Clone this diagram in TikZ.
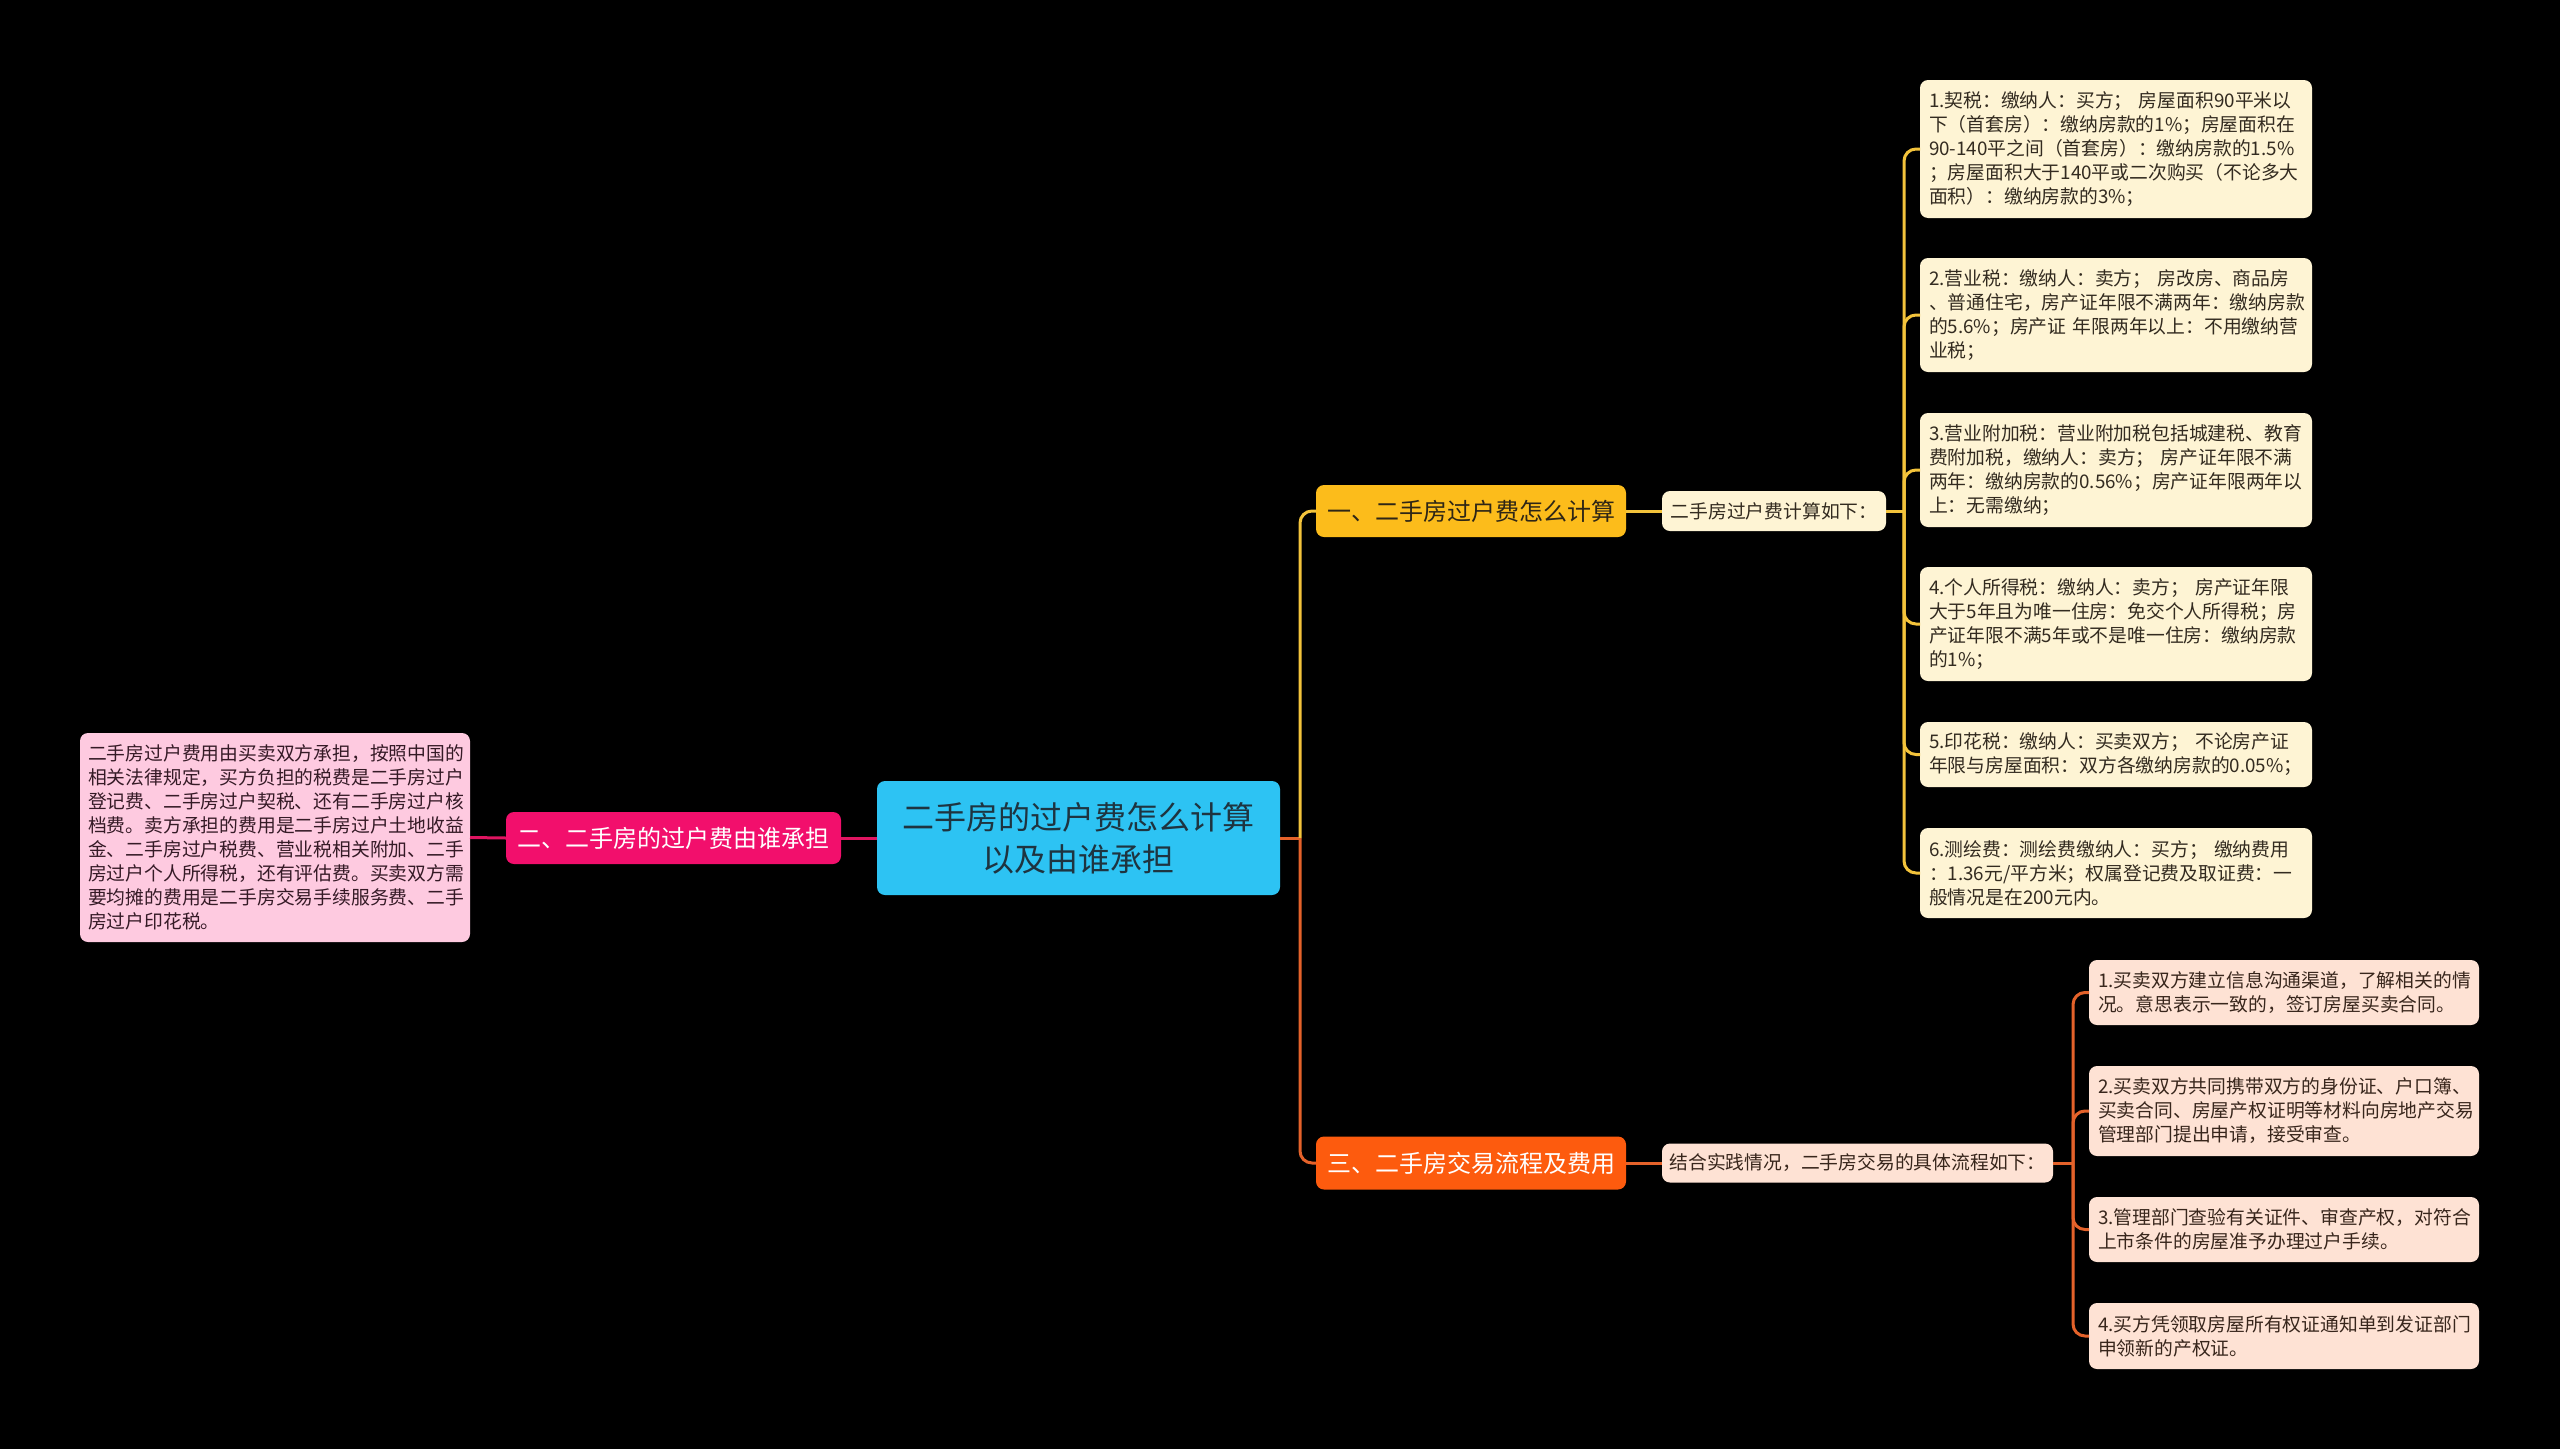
\documentclass[tikz,border=0pt]{standalone}
\usepackage{fontspec}
\setmainfont{Noto Sans CJK SC}
\begin{document}
\begin{tikzpicture}[x=1pt,y=-1pt,
  box/.style={rounded corners=8pt, inner ysep=0pt, outer sep=0pt},
  leaf/.style={box, anchor=north west, inner xsep=9pt, align=left,
    font=\fontsize{18.8}{24}\selectfont},
  yleaf/.style={leaf, fill=yfill, text=ytext, text width=374pt},
  oleaf/.style={leaf, fill=ofill, text=otext, text width=372pt},
  branch/.style={box, font=\fontsize{24}{30}\selectfont, inner xsep=6pt},
  subnode/.style={box, font=\fontsize{18.8}{24}\selectfont, inner xsep=6pt},
  yline/.style={draw=ylinec, line width=3pt, rounded corners=12pt},
  oline/.style={draw=olinec, line width=3pt, rounded corners=12pt},
  pline/.style={draw=plinec, line width=3pt},
]
\definecolor{bg}{HTML}{000000}
\definecolor{cfill}{HTML}{2DC3F3}
\definecolor{ctext}{HTML}{1E3440}
\definecolor{b1fill}{HTML}{FCBC1B}
\definecolor{b1text}{HTML}{2E2616}
\definecolor{yfill}{HTML}{FEF4D4}
\definecolor{ytext}{HTML}{332B20}
\definecolor{pbfill}{HTML}{F20F6C}
\definecolor{plfill}{HTML}{FECAE0}
\definecolor{pltext}{HTML}{351A26}
\definecolor{obfill}{HTML}{FD5B0E}
\definecolor{ofill}{HTML}{FEE2D4}
\definecolor{otext}{HTML}{38261C}
\definecolor{ylinec}{HTML}{F3C33B}
\definecolor{olinec}{HTML}{E4622A}
\definecolor{plinec}{HTML}{E01561}

\useasboundingbox (0,0) rectangle (2560,1449);
\fill[bg] (0,0) rectangle (2560,1449);

% center
\node[box, fill=cfill, text=ctext, minimum width=403pt, minimum height=114pt,
  align=center, font=\fontsize{32}{42}\selectfont] (center) at (1078.5,838)
  {二手房的过户费怎么计算\\以及由谁承担};

% branches
\node[branch, fill=b1fill, text=b1text, minimum width=310pt, minimum height=52pt] (b1) at (1471,511) {一、二手房过户费怎么计算};
\node[branch, fill=pbfill, text=white, minimum width=335pt, minimum height=52pt] (b2) at (673.5,838) {二、二手房的过户费由谁承担};
\node[branch, fill=obfill, text=white, minimum width=310pt, minimum height=53pt] (b3) at (1471,1163) {三、二手房交易流程及费用};

% sub nodes
\node[subnode, fill=yfill, text=ytext, minimum width=224pt, minimum height=40pt] (s1) at (1774,511) {二手房过户费计算如下：};
\node[subnode, fill=ofill, text=otext, minimum width=391pt, minimum height=39pt] (s3) at (1857.5,1163) {结合实践情况，二手房交易的具体流程如下：};

% pink leaf
\node[leaf, fill=plfill, text=pltext, text width=374pt, inner xsep=8pt, minimum height=209pt] (pl) at (80,733)
{二手房过户费用由买卖双方承担，按照中国的\\相关法律规定，买方负担的税费是二手房过户\\登记费、二手房过户契税、还有二手房过户核\\档费。卖方承担的费用是二手房过户土地收益\\金、二手房过户税费、营业税相关附加、二手\\房过户个人所得税，还有评估费。买卖双方需\\要均摊的费用是二手房交易手续服务费、二手\\房过户印花税。};

% yellow leaves
\node[yleaf, minimum height=138pt] (l1) at (1920,80)
{1.契税：缴纳人：买方； 房屋面积90平米以\\下（首套房）：缴纳房款的1\%；房屋面积在\\90-140平之间（首套房）：缴纳房款的1.5\%\\；房屋面积大于140平或二次购买（不论多大\\面积）：缴纳房款的3\%；};
\node[yleaf, minimum height=114pt] (l2) at (1920,258)
{2.营业税：缴纳人：卖方； 房改房、商品房\\、普通住宅，房产证年限不满两年：缴纳房款\\的5.6\%；房产证 年限两年以上：不用缴纳营\\业税；};
\node[yleaf, minimum height=114pt] (l3) at (1920,413)
{3.营业附加税：营业附加税包括城建税、教育\\费附加税，缴纳人：卖方； 房产证年限不满\\两年：缴纳房款的0.56\%；房产证年限两年以\\上：无需缴纳；};
\node[yleaf, minimum height=114pt] (l4) at (1920,567)
{4.个人所得税：缴纳人：卖方； 房产证年限\\大于5年且为唯一住房：免交个人所得税；房\\产证年限不满5年或不是唯一住房：缴纳房款\\的1\%；};
\node[yleaf, minimum height=65pt] (l5) at (1920,722)
{5.印花税：缴纳人：买卖双方； 不论房产证\\年限与房屋面积：双方各缴纳房款的0.05\%；};
\node[yleaf, minimum height=90pt] (l6) at (1920,828)
{6.测绘费：测绘费缴纳人：买方； 缴纳费用\\：1.36元/平方米；权属登记费及取证费：一\\般情况是在200元内。};

% orange leaves
\node[oleaf, minimum height=65pt] (o1) at (2089,960)
{1.买卖双方建立信息沟通渠道，了解相关的情\\况。意思表示一致的，签订房屋买卖合同。};
\node[oleaf, minimum height=90pt] (o2) at (2089,1066)
{2.买卖双方共同携带双方的身份证、户口簿、\\买卖合同、房屋产权证明等材料向房地产交易\\管理部门提出申请，接受审查。};
\node[oleaf, minimum height=65pt] (o3) at (2089,1197)
{3.管理部门查验有关证件、审查产权，对符合\\上市条件的房屋准予办理过户手续。};
\node[oleaf, minimum height=66pt] (o4) at (2089,1303)
{4.买方凭领取房屋所有权证通知单到发证部门\\申领新的产权证。};

% hub coordinates
\coordinate (hub) at (1300,838);
\coordinate (yhub) at (1904,511);
\coordinate (ohub) at (2073,1163);

% connectors
\draw[pline] (center.west) -- (b2.east);
\draw[pline] (b2.west) -- (pl.east);
\draw[oline] (center.east) -- (hub);
\draw[yline] (hub) |- (b1.west);
\draw[oline] (hub) |- (b3.west);
\draw[yline] (b1.east) -- (s1.west);
\draw[oline] (b3.east) -- (s3.west);
\draw[yline] (s1.east) -- (yhub);
\foreach \n in {l1,l2,l3,l4,l5,l6} \draw[yline] (yhub) |- (\n.west);
\draw[oline] (s3.east) -- (ohub);
\foreach \n in {o1,o2,o3,o4} \draw[oline] (ohub) |- (\n.west);
\end{tikzpicture}
\end{document}
